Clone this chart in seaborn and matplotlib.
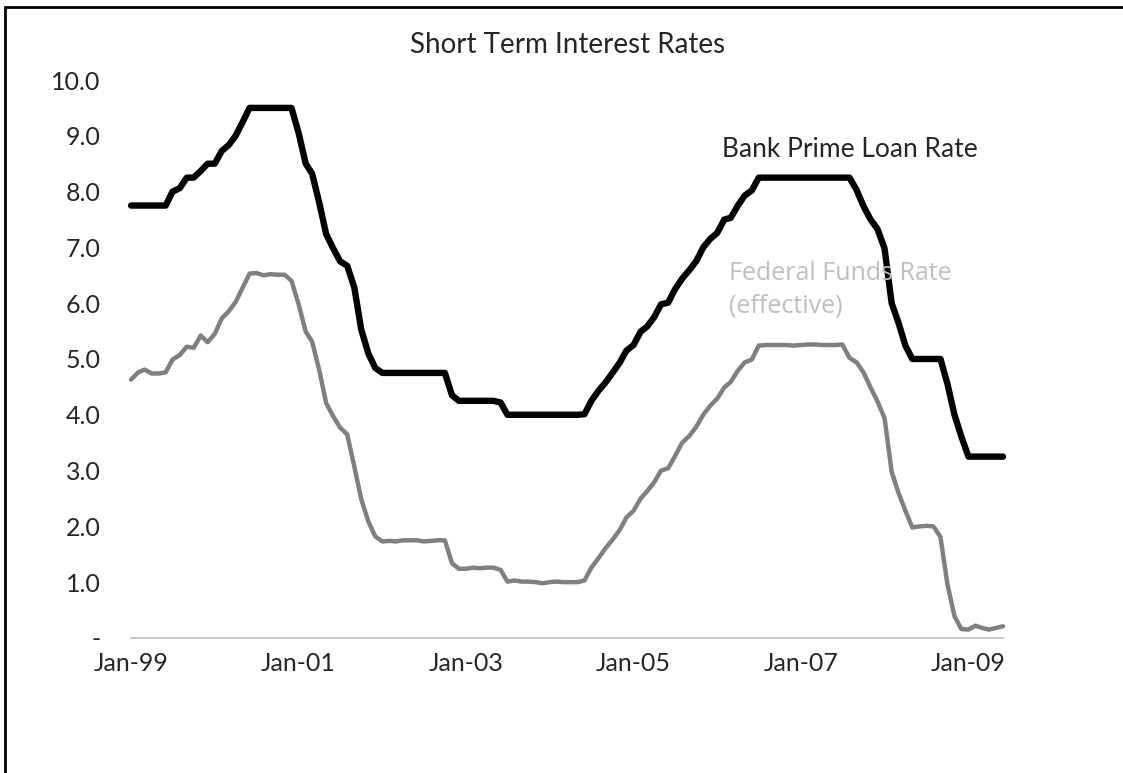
import pandas as pd
import matplotlib
matplotlib.use('Agg')
import matplotlib.pyplot as plt
import matplotlib.dates as mdates
from matplotlib.lines import Line2D
import seaborn as sns

# monthly rates, Jan-1999 .. Jun-2009 (percent)
prime_rate = [
    7.75, 7.75, 7.75, 7.75, 7.75, 7.75, 8.00, 8.06, 8.25, 8.25, 8.37, 8.50,
    8.50, 8.73, 8.83, 9.00, 9.24, 9.50, 9.50, 9.50, 9.50, 9.50, 9.50, 9.50,
    9.05, 8.50, 8.32, 7.80, 7.24, 6.98, 6.75, 6.67, 6.28, 5.53, 5.10, 4.84,
    4.75, 4.75, 4.75, 4.75, 4.75, 4.75, 4.75, 4.75, 4.75, 4.75, 4.35, 4.25,
    4.25, 4.25, 4.25, 4.25, 4.25, 4.22, 4.00, 4.00, 4.00, 4.00, 4.00, 4.00,
    4.00, 4.00, 4.00, 4.00, 4.00, 4.01, 4.25, 4.43, 4.58, 4.75, 4.93, 5.15,
    5.25, 5.49, 5.58, 5.75, 5.98, 6.01, 6.25, 6.44, 6.59, 6.75, 7.00, 7.15,
    7.26, 7.50, 7.53, 7.75, 7.93, 8.02, 8.25, 8.25, 8.25, 8.25, 8.25, 8.25,
    8.25, 8.25, 8.25, 8.25, 8.25, 8.25, 8.25, 8.25, 8.03, 7.74, 7.50, 7.33,
    6.98, 6.00, 5.66, 5.24, 5.00, 5.00, 5.00, 5.00, 5.00, 4.56, 4.00, 3.61,
    3.25, 3.25, 3.25, 3.25, 3.25, 3.25,
]
fed_funds = [
    4.63, 4.76, 4.81, 4.74, 4.74, 4.76, 4.99, 5.07, 5.22, 5.20, 5.42, 5.30,
    5.45, 5.73, 5.85, 6.02, 6.27, 6.53, 6.54, 6.50, 6.52, 6.51, 6.51, 6.40,
    5.98, 5.49, 5.31, 4.80, 4.21, 3.97, 3.77, 3.65, 3.07, 2.49, 2.09, 1.82,
    1.73, 1.74, 1.73, 1.75, 1.75, 1.75, 1.73, 1.74, 1.75, 1.75, 1.34, 1.24,
    1.24, 1.26, 1.25, 1.26, 1.26, 1.22, 1.01, 1.03, 1.01, 1.01, 1.00, 0.98,
    1.00, 1.01, 1.00, 1.00, 1.00, 1.03, 1.26, 1.43, 1.61, 1.76, 1.93, 2.16,
    2.28, 2.50, 2.63, 2.79, 3.00, 3.04, 3.26, 3.50, 3.62, 3.78, 4.00, 4.16,
    4.29, 4.49, 4.59, 4.79, 4.94, 4.99, 5.24, 5.25, 5.25, 5.25, 5.25, 5.24,
    5.25, 5.26, 5.26, 5.25, 5.25, 5.25, 5.26, 5.02, 4.94, 4.76, 4.49, 4.24,
    3.94, 2.98, 2.61, 2.28, 1.98, 2.00, 2.01, 2.00, 1.81, 0.97, 0.39, 0.16,
    0.15, 0.22, 0.18, 0.15, 0.18, 0.21,
]
months = pd.date_range('1999-01-01', periods=len(prime_rate), freq='MS')
tick_dates = pd.date_range('1999-01-01', '2009-01-01', freq='24MS')
y_ticks = [0, 1, 2, 3, 4, 5, 6, 7, 8, 9, 10]
y_labels = ['-', '1.0', '2.0', '3.0', '4.0', '5.0', '6.0', '7.0', '8.0', '9.0', '10.0']

df = pd.DataFrame({'month': months, 'prime': prime_rate, 'fed': fed_funds})

sns.set_style('white')
plt.rcParams['font.family'] = ['Lato', 'DejaVu Sans']

fig = plt.figure(figsize=(11.23, 7.73), dpi=100)
ax = fig.add_axes([0.1167, 0.1747, 0.7765, 0.7218])

sns.lineplot(data=df, x='month', y='fed', ax=ax, color='#808080', lw=3.2)
sns.lineplot(data=df, x='month', y='prime', ax=ax, color='black', lw=4.6)
for ln in ax.lines:
    ln.set_clip_on(False)

ax.set_xlim(months[0], months[-1])
ax.set_ylim(0, 10)
ax.set_xticks(tick_dates)
ax.xaxis.set_major_formatter(mdates.DateFormatter('%b-%y'))
ax.set_yticks(y_ticks)
ax.set_yticklabels(y_labels)
ax.set_xlabel('')
ax.set_ylabel('')

for s in ['top', 'right', 'left']:
    ax.spines[s].set_visible(False)
ax.spines['bottom'].set_color('#BFBFBF')
ax.spines['bottom'].set_linewidth(1.2)
ax.tick_params(axis='x', length=7, width=1, color='#BFBFBF', pad=3, labelsize=18)
ax.tick_params(axis='y', length=0, pad=22, labelsize=18)

fig.text(0.505, 0.942, 'Short Term Interest Rates', ha='center', va='center', fontsize=20)
ax.text(0.678, 0.875, 'Bank Prime Loan Rate', transform=ax.transAxes,
        ha='left', va='center', fontsize=19)
ax.text(0.686, 0.624, 'Federal Funds Rate\n(effective)', transform=ax.transAxes,
        ha='left', va='center', fontsize=18, color='#BFBFBF', linespacing=1.4,
        family=['Open Sans', 'DejaVu Sans'])

# outer frame (only top and left edges show in the crop)
fig.add_artist(Line2D([0.0045, 0.0045], [0.0, 0.991], color='black', lw=2, transform=fig.transFigure))
fig.add_artist(Line2D([0.0045, 1.0], [0.991, 0.991], color='black', lw=2, transform=fig.transFigure))

fig.savefig('out.png', dpi=100)
